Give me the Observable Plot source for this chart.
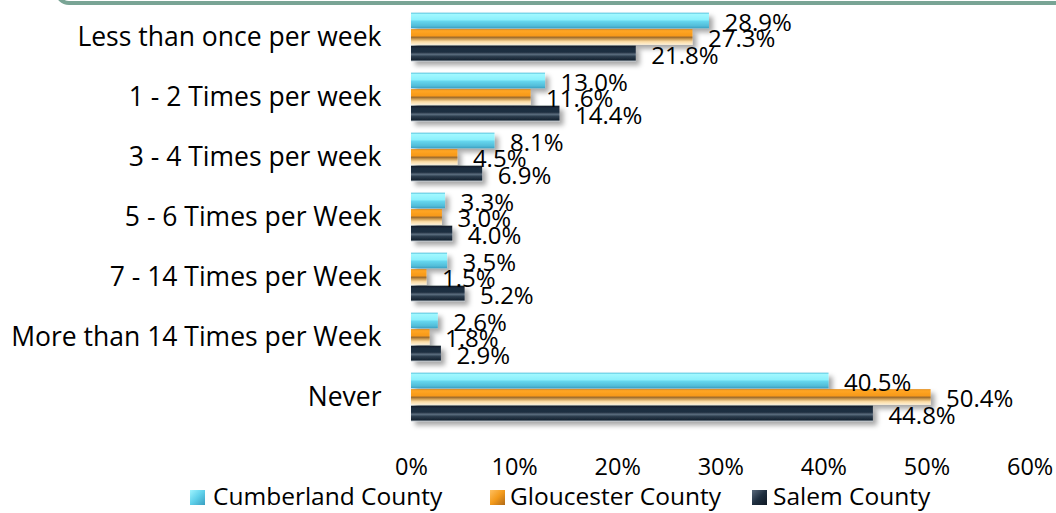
<!DOCTYPE html>
<html>
<head>
<meta charset="utf-8">
<script src="https://cdn.jsdelivr.net/npm/d3@7"></script>
<script src="https://cdn.jsdelivr.net/npm/@observablehq/plot@0.6"></script>
<style>
  html, body { margin: 0; padding: 0; background: #fff; }
  #wrap { position: relative; width: 1056px; height: 513px; overflow: hidden; font-family: "Open Sans", sans-serif; }
  #frame { position: absolute; left: 55px; top: -40px; width: 1100px; height: 45px; box-sizing: border-box;
           border: 4px solid #79a495; border-radius: 14px; }
  #chart { position: absolute; left: 0; top: 0; }
  .leg { position: absolute; top: 482px; font-size: 24.5px; color: #000; line-height: 28px; white-space: nowrap; }
  .sw { position: absolute; top: 490px; width: 15px; height: 15px; }
</style>
</head>
<body>
<div id="wrap">
  <div id="frame"></div>
  <div id="chart"></div>
</div>
<script>
const categories = ["Less than once per week", "1 - 2 Times per week", "3 - 4 Times per week",
  "5 - 6 Times per Week", "7 - 14 Times per Week", "More than 14 Times per Week", "Never"];
const seriesNames = ["Cumberland County", "Gloucester County", "Salem County"];
const cumberland = [28.9, 13.0, 8.1, 3.3, 3.5, 2.6, 40.5];
const gloucester = [27.3, 11.6, 4.5, 3.0, 1.5, 1.8, 50.4];
const salem = [21.8, 14.4, 6.9, 4.0, 5.2, 2.9, 44.8];
const xTicks = [0, 10, 20, 30, 40, 50, 60];

const seriesValues = [cumberland, gloucester, salem];
const gradIds = ["gCum", "gGlo", "gSal"];
const offsets = [-16.5, 0, 16.5];

const marks = [];
seriesValues.forEach((vals, s) => {
  const rows = categories.map((c, i) => ({category: c, value: vals[i]}));
  marks.push(Plot.barX(rows, {
    x: "value", y: "category",
    insetTop: 22.2, insetBottom: 22.2, dy: offsets[s],
    fill: `url(#${gradIds[s]})`
  }));
});
seriesValues.forEach((vals, s) => {
  const rows = categories.map((c, i) => ({category: c, value: vals[i]}));
  marks.push(Plot.text(rows, {
    x: "value", y: "category", text: d => d.value.toFixed(1) + "%",
    dx: 15, dy: offsets[s] + 2, textAnchor: "start", fontSize: 24, fill: "#000"
  }));
});

const chart = Plot.plot({
  width: 1056, height: 480,
  marginLeft: 411, marginRight: 26.4, marginTop: 7, marginBottom: 53,
  style: {fontFamily: "Open Sans", color: "#000", background: "transparent", overflow: "visible"},
  x: {domain: [0, 60], axis: null, label: null},
  y: {domain: categories, padding: 0, axis: null, label: null},
  marks: [
    Plot.axisX({ticks: xTicks, tickFormat: d => d + "%", tickSize: 0, tickPadding: 31, fontSize: 23.5, label: null}),
    Plot.axisY({tickSize: 0, tickPadding: 30, fontSize: 26.5, label: null}),
    ...marks,
    Plot.axisX({ticks: [], tickSize: 0, line: true, stroke: "#8f8f8f", strokeWidth: 1.5, label: null}),
    Plot.axisY({ticks: [], tickSize: 0, line: true, stroke: "#8f8f8f", strokeWidth: 1.5, label: null})
  ]
});

const svg = d3.select(chart);
svg.insert("defs", ":first-child").html(`
  <linearGradient id="gCum" x1="0" y1="0" x2="0" y2="1">
    <stop offset="0" stop-color="#48b8d6"/>
    <stop offset="0.1" stop-color="#a2f8ff"/>
    <stop offset="0.45" stop-color="#8cf0fc"/>
    <stop offset="0.55" stop-color="#66d6ee"/>
    <stop offset="0.85" stop-color="#52bcd8"/>
    <stop offset="1" stop-color="#3a9ec0"/>
  </linearGradient>
  <linearGradient id="gGlo" x1="0" y1="0" x2="0" y2="1">
    <stop offset="0" stop-color="#e08410"/>
    <stop offset="0.1" stop-color="#ffa624"/>
    <stop offset="0.42" stop-color="#f7991a"/>
    <stop offset="0.52" stop-color="#9c6a2c"/>
    <stop offset="0.62" stop-color="#c8974f"/>
    <stop offset="0.8" stop-color="#fbdca6"/>
    <stop offset="1" stop-color="#fff1d6"/>
  </linearGradient>
  <linearGradient id="gSal" x1="0" y1="0" x2="0" y2="1">
    <stop offset="0" stop-color="#0e1824"/>
    <stop offset="0.15" stop-color="#1d2d3e"/>
    <stop offset="0.42" stop-color="#1f2f40"/>
    <stop offset="0.55" stop-color="#5b6c7e"/>
    <stop offset="0.7" stop-color="#2a3a4c"/>
    <stop offset="0.9" stop-color="#182633"/>
    <stop offset="1" stop-color="#a3acb6"/>
  </linearGradient>
  <filter id="shadow" x="-5%" y="-40%" width="115%" height="200%">
    <feDropShadow dx="4" dy="4" stdDeviation="2.5" flood-color="#000" flood-opacity="0.35"/>
  </filter>
`);
svg.selectAll("g[aria-label='bar']").attr("filter", "url(#shadow)");

document.getElementById("chart").appendChild(chart);

// Legend
const wrap = document.getElementById("wrap");
const legPos = [[190, 213], [490, 510], [752, 773]];
const swBg = [
  "linear-gradient(135deg, #9ff4ff 0%, #5fd0ea 50%, #3a9ec0 100%)",
  "linear-gradient(135deg, #ffc060 0%, #f39a1b 50%, #b06a18 100%)",
  "linear-gradient(135deg, #5a6a7c 0%, #1f2f40 50%, #0e1824 100%)"
];
seriesNames.forEach((name, i) => {
  const sw = document.createElement("div");
  sw.className = "sw";
  sw.style.left = legPos[i][0] + "px";
  sw.style.background = swBg[i];
  wrap.appendChild(sw);
  const t = document.createElement("div");
  t.className = "leg";
  t.style.left = legPos[i][1] + "px";
  t.textContent = name;
  wrap.appendChild(t);
});
</script>
</body>
</html>
